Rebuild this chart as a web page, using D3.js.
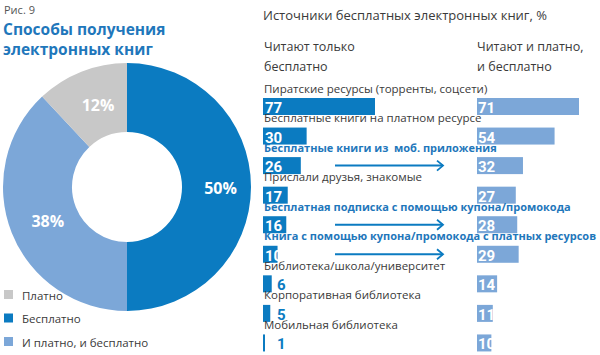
<!DOCTYPE html>
<html><head><meta charset="utf-8">
<script src="https://cdn.jsdelivr.net/npm/d3@7"></script>
<style>
body{margin:0;background:#fff;}
svg{display:block;font-family:"Open Sans","Noto Sans",sans-serif;}
</style></head>
<body><svg id="c" width="600" height="355"></svg>
<script>
// ---- data ----
const pieLabels = ["Бесплатно", "И платно, и бесплатно", "Платно"];
const pieValues = [50, 38, 12];
const legendLabels = ["Платно", "Бесплатно", "И платно, и бесплатно"];
const categories = [
  "Пиратские ресурсы (торренты, соцсети)",
  "Бесплатные книги на платном ресурсе",
  "Бесплатные книги из  моб. приложения",
  "Прислали друзья, знакомые",
  "Бесплатная подписка с помощью купона/промокода",
  "Книга с помощью купона/промокода с платных ресурсов",
  "Библиотека/школа/университет",
  "Корпоративная библиотека",
  "Мобильная библиотека"
];
const onlyFree = [77, 30, 26, 17, 16, 10, 6, 5, 1];
const paidAndFree = [71, 54, 32, 27, 28, 29, 14, 11, 10];
const highlighted = [false, false, true, false, true, true, false, false, false];
const seriesNames = [["Читают только", "бесплатно"], ["Читают и платно,", "и бесплатно"]];

const DARK = "#0b7bc1", LIGHT = "#7ca7d8", GRAY = "#c8c8c8", TEXT = "#3a3a3a", TBLUE = "#1f77bb";
const colorOf = {"Бесплатно": DARK, "И платно, и бесплатно": LIGHT, "Платно": GRAY};

const svg = d3.select("#c");

// ---- left: titles ----
svg.append("text").attr("x", 4).attr("y", 14).attr("font-size", 11).attr("fill", "#555").text("Рис. 9");
svg.append("text").attr("x", 3).attr("y", 35).attr("font-size", 15.5).attr("font-weight", "bold").attr("fill", TBLUE).text("Способы получения");
svg.append("text").attr("x", 3).attr("y", 55).attr("font-size", 15.5).attr("font-weight", "bold").attr("fill", TBLUE).text("электронных книг");

// ---- donut ----
const cx = 127, cy = 187, R = 124, r0 = 55;
const pie = d3.pie().sort(null).value(d => d)(pieValues);
const arc = d3.arc().innerRadius(r0).outerRadius(R);
const g = svg.append("g").attr("transform", `translate(${cx},${cy})`);
g.selectAll("path").data(pie).join("path")
  .attr("d", arc).attr("fill", (d, i) => colorOf[pieLabels[i]]);
g.selectAll("text").data(pie).join("text")
  .attr("transform", d => { const c = arc.centroid(d); return `translate(${c[0] + 4},${c[1] + 1})`; })
  .attr("text-anchor", "middle").attr("dominant-baseline", "central")
  .attr("font-size", 16).attr("font-weight", "bold").attr("fill", "#fff")
  .text(d => d.value + "%");

// ---- legend ----
const lg = svg.append("g");
const ly = d3.scalePoint().domain(legendLabels).range([295, 342]);
legendLabels.forEach(l => {
  lg.append("rect").attr("x", 4).attr("y", ly(l) - 5).attr("width", 9).attr("height", 9).attr("fill", colorOf[l]);
  lg.append("text").attr("x", 22).attr("y", ly(l)).attr("dominant-baseline", "central")
    .attr("font-size", 11.5).attr("fill", TEXT).text(l);
});

// ---- right: bars ----
svg.append("text").attr("x", 263).attr("y", 20).attr("font-size", 13).attr("fill", TEXT).text("Источники бесплатных электронных книг, %");
const colX = [264, 477];
seriesNames.forEach((lines, j) => {
  lines.forEach((t, k) => svg.append("text").attr("x", colX[j]).attr("y", 51 + k * 20)
    .attr("font-size", 12.5).attr("fill", TEXT).text(t));
});

const y = d3.scaleBand().domain(categories).range([89, 355]).paddingInner(0).paddingOuter(0);
const barH = 17;
const xL = d3.scaleLinear().domain([0, 77]).range([0, 112]);
const xR = d3.scaleLinear().domain([0, 71]).range([0, 102]);
const numFont = "'Liberation Sans Narrow','Roboto',sans-serif";

categories.forEach((c, i) => {
  const top = y(c) + 9;
  const lbl = svg.append("text").attr("x", 264).attr("y", top - 5.5)
    .style("white-space", "pre")
    .attr("font-size", highlighted[i] ? 11 : 11.5)
    .attr("font-weight", highlighted[i] ? "bold" : "normal")
    .attr("fill", highlighted[i] ? TBLUE : TEXT).text(c);
  const maxW = 333;
  if (lbl.node().getComputedTextLength() > maxW) lbl.attr("textLength", maxW).attr("lengthAdjust", "spacingAndGlyphs");
  // left bar
  const wl = xL(onlyFree[i]);
  svg.append("rect").attr("x", colX[0] - 1).attr("y", top).attr("width", Math.max(wl, 2)).attr("height", barH).attr("fill", DARK);
  const inside = wl >= 14;
  svg.append("text").attr("x", inside ? colX[0] + 1 : colX[0] - 1 + Math.max(wl, 9) + 5).attr("y", top + 15)
    .attr("font-size", 15).attr("font-weight", "bold")
    .attr("font-family", numFont)
    .attr("fill", inside ? "#fff" : DARK).text(onlyFree[i]);
  // right bar
  const wr = xR(paidAndFree[i]);
  svg.append("rect").attr("x", colX[1]).attr("y", top).attr("width", wr).attr("height", barH).attr("fill", LIGHT);
  svg.append("text").attr("x", colX[1] + 1).attr("y", top + 15)
    .attr("font-size", 15).attr("font-weight", "bold")
    .attr("font-family", numFont)
    .attr("fill", "#fff").text(paidAndFree[i]);
  // arrow
  if (highlighted[i]) {
    const ay = top + barH / 2;
    svg.append("line").attr("x1", 335).attr("x2", 443).attr("y1", ay).attr("y2", ay)
      .attr("stroke", DARK).attr("stroke-width", 2);
    svg.append("path").attr("d", `M${437},${ay - 5}L${443},${ay}L${437},${ay + 5}`)
      .attr("fill", "none").attr("stroke", DARK).attr("stroke-width", 1.8);
  }
});
</script></body></html>
